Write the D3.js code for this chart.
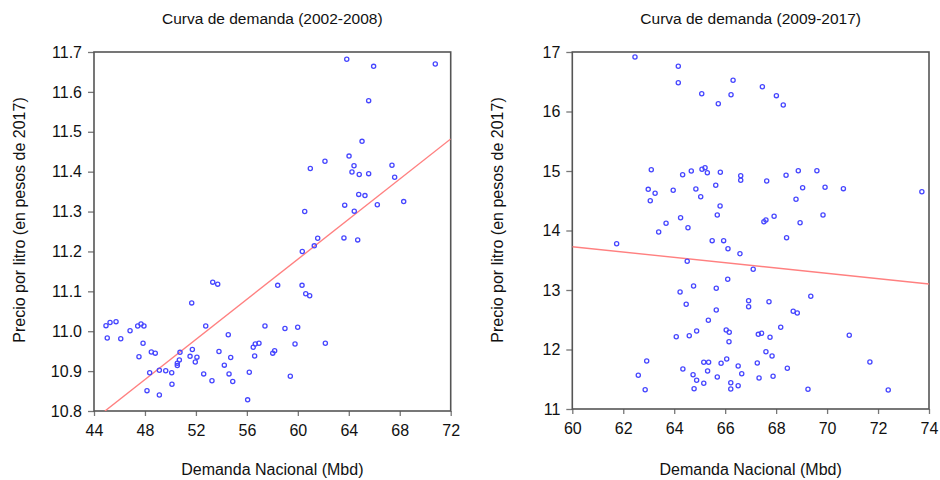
<!DOCTYPE html>
<html>
<head>
<meta charset="utf-8">
<script src="https://cdn.jsdelivr.net/npm/d3@7"></script>
<style>
  body { margin: 0; background: #fff; }
  text { font-family: "Liberation Sans", Arial, sans-serif; fill: #111; }
</style>
</head>
<body>
<div id="chart"></div>
<script>
// Curva de demanda 2002-2008 (Mbd, precio)
const demanda0208 = [44.94, 45.26, 45.73, 45.04, 46.10, 46.83, 47.43, 47.69, 47.92, 47.85,
  47.53, 48.50, 48.81, 48.37, 48.16, 49.13, 49.13, 49.63, 50.10, 50.12,
  50.54, 50.54, 50.70, 50.75, 51.54, 51.72, 51.95, 52.08, 51.67, 52.77,
  53.32, 53.71, 52.61, 53.26, 53.81, 54.23, 54.54, 54.73, 54.60, 54.89,
  56.06, 56.19, 56.61, 56.50, 56.66, 56.95, 57.42, 58.03, 58.18, 58.99,
  59.99, 59.78, 59.41, 62.16, 58.42, 60.33, 60.62, 60.93, 60.35, 61.29,
  61.56, 63.62, 64.70, 63.84, 65.95, 70.79, 65.56, 65.04, 64.02, 62.13,
  60.98, 64.41, 64.25, 64.82, 65.56, 67.39, 67.60, 64.78, 65.27, 63.68,
  64.43, 66.24, 68.31, 60.54];
const precio0208 = [11.014, 11.022, 11.024, 10.983, 10.981, 11.001, 11.013, 11.018, 11.013, 10.970,
  10.936, 10.948, 10.945, 10.896, 10.851, 10.902, 10.840, 10.901, 10.896, 10.867,
  10.914, 10.920, 10.928, 10.947, 10.937, 10.954, 10.923, 10.935, 11.071, 11.013,
  11.123, 11.118, 10.893, 10.876, 10.949, 10.915, 10.991, 10.934, 10.893, 10.874,
  10.828, 10.897, 10.938, 10.960, 10.968, 10.970, 11.013, 10.945, 10.951, 11.007,
  11.010, 10.968, 10.887, 10.970, 11.115, 11.115, 11.094, 11.089, 11.200, 11.214,
  11.233, 11.234, 11.229, 11.682, 11.664, 11.670, 11.578, 11.476, 11.439, 11.426,
  11.408, 11.415, 11.399, 11.393, 11.395, 11.416, 11.386, 11.343, 11.340, 11.316,
  11.301, 11.317, 11.325, 11.300];

// Curva de demanda 2009-2017
const demanda0917 = [62.46, 64.16, 64.16, 65.08, 65.73, 66.31, 66.23, 67.46, 68.01, 68.28,
  63.10, 64.33, 64.67, 65.09, 65.21, 65.30, 65.81, 66.61, 66.61, 62.98,
  63.25, 63.06, 63.96, 64.85, 65.04, 65.63, 65.80, 65.69, 64.25, 63.68,
  64.54, 63.39, 61.74, 65.49, 65.94, 66.11, 66.58, 64.51, 67.10, 66.10,
  64.76, 64.23, 65.65, 66.92, 66.92, 64.47, 65.65, 65.34, 64.88, 64.59,
  64.08, 66.04, 66.16, 66.15, 67.30, 67.43, 62.92, 62.59, 62.86, 64.34,
  64.74, 64.88, 65.16, 64.78, 65.16, 65.35, 65.31, 65.69, 65.84, 66.06,
  66.51, 66.65, 66.22, 66.22, 66.51, 67.26, 67.33, 67.63, 68.39, 68.87,
  69.60, 69.04, 69.92, 70.64, 73.72, 68.78, 69.84, 67.92, 67.60, 67.52,
  68.94, 68.41, 67.72, 69.36, 68.67, 68.83, 68.18, 67.76, 70.87, 67.60,
  67.84, 67.88, 68.44, 71.68, 69.25, 72.40];
const precio0917 = [16.916, 16.760, 16.484, 16.299, 16.131, 16.524, 16.282, 16.417, 16.266, 16.109,
  15.022, 14.938, 15.000, 15.029, 15.055, 14.971, 14.978, 14.921, 14.844, 14.692,
  14.625, 14.501, 14.676, 14.697, 14.568, 14.760, 14.412, 14.261, 14.215, 14.121,
  14.047, 13.975, 13.778, 13.829, 13.829, 13.694, 13.610, 13.482, 13.348, 13.180,
  13.067, 12.966, 13.029, 12.820, 12.719, 12.760, 12.664, 12.491, 12.311, 12.232,
  12.215, 12.328, 12.289, 12.131, 12.255, 12.272, 11.807, 11.566, 11.324, 11.672,
  11.576, 11.482, 11.432, 11.341, 11.785, 11.785, 11.639, 11.538, 11.768, 11.840,
  11.723, 11.593, 11.442, 11.336, 11.392, 11.773, 11.521, 14.832, 14.928, 15.005,
  15.005, 14.719, 14.726, 14.703, 14.652, 14.524, 14.261, 14.239, 14.176, 14.148,
  14.131, 13.879, 12.803, 12.894, 12.642, 12.613, 12.373, 12.205, 12.239, 11.963,
  11.891, 11.550, 11.684, 11.790, 11.331, 11.319];

// fitted lines, end points
const recta0208 = [[44.86, 10.80], [72, 11.482]];
const recta0917 = [[60, 13.728], [74, 13.10]];

const ticksX0208 = [44, 48, 52, 56, 60, 64, 68, 72];
const ticksY0208 = [10.8, 10.9, 11.0, 11.1, 11.2, 11.3, 11.4, 11.5, 11.6, 11.7];
const ticksX0917 = [60, 62, 64, 66, 68, 70, 72, 74];
const ticksY0917 = [11, 12, 13, 14, 15, 16, 17];

const width = 940, height = 480;

const svg = d3.select("#chart")
    .append("svg")
    .attr("width", width)
    .attr("height", height);

function panel(opts) {
    const g = svg.append("g");

    const xScale = d3.scaleLinear()
        .domain(d3.extent(opts.ticksX))
        .range([opts.left, opts.right]);
    const yScale = d3.scaleLinear()
        .domain(d3.extent(opts.ticksY))
        .range([opts.bottom, opts.top]);

    // axes
    const yAxis = g.append("g")
        .attr("transform", `translate(${opts.left},0)`)
        .call(d3.axisLeft(yScale).tickValues(opts.ticksY).tickFormat(opts.fmt)
            .tickSize(6).tickPadding(6).tickSizeOuter(0));
    const xAxis = g.append("g")
        .attr("transform", `translate(0,${opts.bottom})`)
        .call(d3.axisBottom(xScale).tickValues(opts.ticksX).tickFormat(d3.format("d"))
            .tickSize(5).tickPadding(9).tickSizeOuter(0));

    [yAxis, xAxis].forEach(a => {
        a.selectAll("text").style("font-size", "16px").attr("fill", "#111");
        a.selectAll("line").attr("stroke", "#777").attr("stroke-width", 1.3);
        a.select(".domain").attr("stroke", "none");
    });

    // frame
    g.append("rect")
        .attr("x", opts.left)
        .attr("y", opts.top)
        .attr("width", opts.right - opts.left)
        .attr("height", opts.bottom - opts.top)
        .attr("fill", "none")
        .attr("stroke", "#555")
        .attr("stroke-width", 1.6);

    // clip for the fit line
    const clipId = "clip" + opts.left;
    g.append("clipPath").attr("id", clipId)
        .append("rect")
        .attr("x", opts.left)
        .attr("y", opts.top)
        .attr("width", opts.right - opts.left)
        .attr("height", opts.bottom - opts.top);

    g.append("line")
        .attr("clip-path", `url(#${clipId})`)
        .attr("x1", xScale(opts.fit[0][0]))
        .attr("y1", yScale(opts.fit[0][1]))
        .attr("x2", xScale(opts.fit[1][0]))
        .attr("y2", yScale(opts.fit[1][1]))
        .attr("stroke", "#ff8080")
        .attr("stroke-width", 1.4);

    // points
    g.selectAll("circle")
        .data(opts.xs)
        .enter().append("circle")
        .attr("cx", d => xScale(d))
        .attr("cy", (d, i) => yScale(opts.ys[i]))
        .attr("r", 2.1)
        .attr("fill", "none")
        .attr("stroke", "#4646ff")
        .attr("stroke-width", 1.3);

    // title
    g.append("text")
        .attr("x", (opts.left + opts.right) / 2)
        .attr("y", 24)
        .style("text-anchor", "middle")
        .style("font-size", "15.5px")
        .text(opts.title);

    // x label
    g.append("text")
        .attr("x", (opts.left + opts.right) / 2)
        .attr("y", 475)
        .style("text-anchor", "middle")
        .style("font-size", "16px")
        .text("Demanda Nacional (Mbd)");

    // y label
    g.append("text")
        .attr("transform", "rotate(-90)")
        .attr("x", -220)
        .attr("y", opts.left - 69)
        .style("text-anchor", "middle")
        .style("font-size", "16px")
        .text("Precio por litro (en pesos de 2017)");
}

panel({
    left: 94, right: 450.7, top: 52, bottom: 411,
    ticksX: ticksX0208, ticksY: ticksY0208, fmt: d3.format(".1f"),
    xs: demanda0208, ys: precio0208, fit: recta0208,
    title: "Curva de demanda (2002-2008)"
});

panel({
    left: 572.3, right: 929, top: 52, bottom: 409,
    ticksX: ticksX0917, ticksY: ticksY0917, fmt: d3.format("d"),
    xs: demanda0917, ys: precio0917, fit: recta0917,
    title: "Curva de demanda (2009-2017)"
});
</script>
</body>
</html>
